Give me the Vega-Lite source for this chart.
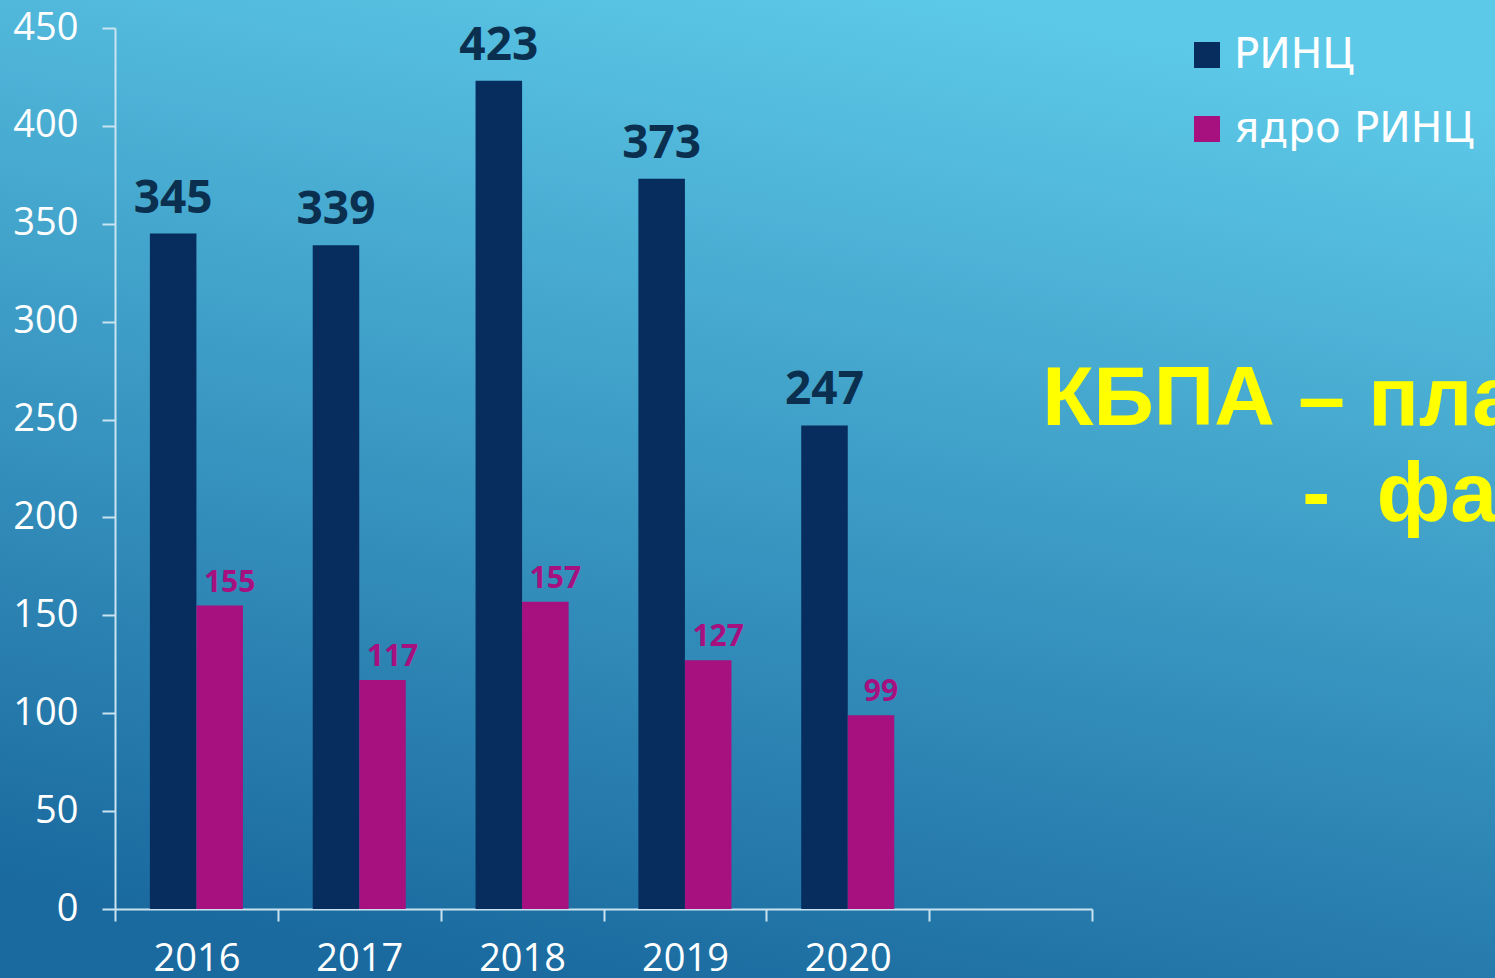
{
  "$schema": "https://vega.github.io/schema/vega-lite/v6.json",
  "width": 1495,
  "height": 978,
  "autosize": {"type": "none"},
  "padding": 0,
  "background": "#2f8fc2",
  "config": {
    "view": {
      "stroke": null,
      "fill": {
        "gradient": "linear",
        "x1": 0.65, "y1": 0, "x2": 0.35, "y2": 1,
        "stops": [
          {"offset": 0, "color": "#5dc9e8"},
          {"offset": 1, "color": "#1a6a9f"}
        ]
      }
    },
    "font": "Open Sans"
  },
  "datasets": {
    "bars": [
      {"year": "2016", "series": "РИНЦ", "value": 345},
      {"year": "2016", "series": "ядро РИНЦ", "value": 155},
      {"year": "2017", "series": "РИНЦ", "value": 339},
      {"year": "2017", "series": "ядро РИНЦ", "value": 117},
      {"year": "2018", "series": "РИНЦ", "value": 423},
      {"year": "2018", "series": "ядро РИНЦ", "value": 157},
      {"year": "2019", "series": "РИНЦ", "value": 373},
      {"year": "2019", "series": "ядро РИНЦ", "value": 127},
      {"year": "2020", "series": "РИНЦ", "value": 247},
      {"year": "2020", "series": "ядро РИНЦ", "value": 99}
    ],
    "notes": [
      {"year": " ", "line": 1, "value": 247, "label": "КБПА – план"},
      {"year": " ", "line": 2, "value": 198, "label": "-\u00a0\u00a0факт"}
    ]
  },
  "encoding": {
    "x": {
      "field": "year",
      "type": "nominal",
      "scale": {
        "domain": ["2016", "2017", "2018", "2019", "2020", " "],
        "range": [115, 1092],
        "paddingInner": 0,
        "paddingOuter": 0
      },
      "axis": {
        "title": null,
        "offset": -69,
        "labelAngle": 0,
        "tickBand": "extent",
        "tickSize": 12,
        "tickColor": "#c9e4f0",
        "tickWidth": 2,
        "domainColor": "#c9e4f0",
        "domainWidth": 2,
        "labelFontSize": 38,
        "labelColor": "#ffffff",
        "labelFont": "Open Sans",
        "labelPadding": 19,
        "grid": false
      }
    },
    "y": {
      "field": "value",
      "type": "quantitative",
      "scale": {"domain": [0, 450], "range": [909, 28], "nice": false},
      "axis": {
        "title": null,
        "offset": -115,
        "values": [0, 50, 100, 150, 200, 250, 300, 350, 400, 450],
        "tickSize": 13,
        "tickColor": "#c9e4f0",
        "tickWidth": 2,
        "domainColor": "#c9e4f0",
        "domainWidth": 2,
        "labelFontSize": 38,
        "labelColor": "#ffffff",
        "labelFont": "Open Sans",
        "labelPadding": 24,
        "grid": false
      }
    },
    "xOffset": {
      "field": "series",
      "type": "nominal",
      "scale": {"domain": ["РИНЦ", "ядро РИНЦ"], "paddingInner": 0, "paddingOuter": 0.75}
    }
  },
  "layer": [
    {
      "data": {"name": "bars"},
      "mark": {"type": "bar"},
      "encoding": {
        "color": {
          "field": "series",
          "type": "nominal",
          "scale": {"domain": ["РИНЦ", "ядро РИНЦ"], "range": ["#062d5e", "#a6107f"]},
          "legend": {
            "title": null,
            "orient": "none",
            "legendX": 1186,
            "legendY": 34,
            "symbolType": "square",
            "symbolSize": 676,
            "symbolStrokeWidth": 0,
            "labelFontSize": 42,
            "labelColor": "#ffffff",
            "labelFont": "DejaVu Sans",
            "labelOffset": 6,
            "labelLimit": 0,
            "rowPadding": 32,
            "padding": 0
          }
        }
      }
    },
    {
      "data": {"name": "bars"},
      "transform": [{"filter": "datum.series == 'РИНЦ'"}],
      "mark": {"type": "text", "fontSize": 46, "fontWeight": "bold", "color": "#0b2f4f", "baseline": "alphabetic", "dy": -21, "font": "Open Sans"},
      "encoding": {
        "text": {"field": "value", "type": "quantitative"}
      }
    },
    {
      "data": {"name": "bars"},
      "transform": [{"filter": "datum.series == 'ядро РИНЦ'"}],
      "mark": {"type": "text", "fontSize": 30, "fontWeight": "bold", "color": "#a6107f", "baseline": "alphabetic", "dy": -14, "dx": 10, "font": "Open Sans"},
      "encoding": {
        "text": {"field": "value", "type": "quantitative"}
      }
    },
    {
      "data": {"name": "notes"},
      "transform": [{"filter": "datum.line == 1"}],
      "mark": {"type": "text", "fontSize": 84, "fontWeight": "bold", "color": "#ffff00", "align": "left", "baseline": "alphabetic", "dx": 113, "font": "Liberation Sans"},
      "encoding": {
        "xOffset": {"value": 0},
        "text": {"field": "label", "type": "nominal"}
      }
    },
    {
      "data": {"name": "notes"},
      "transform": [{"filter": "datum.line == 2"}],
      "mark": {"type": "text", "fontSize": 84, "fontWeight": "bold", "color": "#ffff00", "align": "left", "baseline": "alphabetic", "dx": 373, "font": "Liberation Sans"},
      "encoding": {
        "xOffset": {"value": 0},
        "text": {"field": "label", "type": "nominal"}
      }
    }
  ]
}
